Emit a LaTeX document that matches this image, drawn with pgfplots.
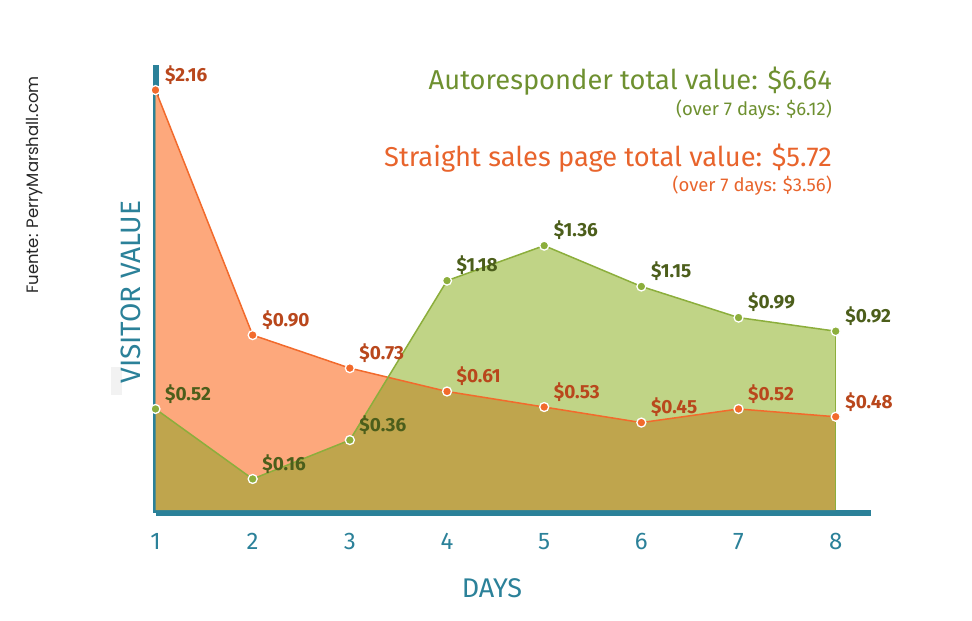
\documentclass[border=0pt]{standalone}
\usepackage{fontspec}
\setmainfont{Fira Sans}
\newfontfamily\poppins{Poppins}
\usepackage{pgfplots}
\pgfplotsset{compat=1.18}
\usepgfplotslibrary{fillbetween}
\definecolor{axteal}{HTML}{2B8199}
\definecolor{orline}{HTML}{F26A2C}
\definecolor{orfill}{HTML}{FDA87C}
\definecolor{grline}{HTML}{8CAE3C}
\definecolor{grfill}{HTML}{C0D486}
\definecolor{olfill}{HTML}{BFA54D}
\definecolor{orlbl}{HTML}{B9471C}
\definecolor{grlbl}{HTML}{4C5E1B}
\definecolor{grhead}{HTML}{6E9030}
\definecolor{orhead}{HTML}{E8642C}
\pgfplotsset{vlabels/.style={
  point meta=y,
  nodes near coords={\$\pgfmathprintnumber[fixed,fixed zerofill,precision=2,assume math mode=true]{\pgfplotspointmeta}},
  every node near coord/.append style={anchor=south west, inner sep=1pt, xshift=8pt, yshift=4pt, font=\bfseries\fontsize{19}{21}\selectfont, text=#1}}}
\begin{document}
\begin{tikzpicture}
\fill[black!5] (111pt,226pt) rectangle (122pt,254pt);
\begin{axis}[
  at={(155.5pt,108pt)}, anchor=south west,
  scale only axis, width=715pt, height=448pt,
  xmin=1, xmax=8.358, ymin=-0.015, ymax=2.289,
  axis x line=bottom, axis y line=left,
  axis line style={line width=6pt, draw=axteal, -},
  ytick=\empty,
  xtick={1,2,3,4,5,6,7,8},
  xticklabels={1,2,3,4,5,6,7,8},
  major tick length=0pt,
  xticklabel style={text=axteal, font=\fontsize{24}{28}\selectfont, yshift=-17pt},
  xlabel={DAYS},
  xlabel style={text=axteal, font=\fontsize{27}{32}\selectfont, at={(axis description cs:0.4706,-0.167)}, anchor=center},
  ylabel={VISITOR VALUE},
  ylabel style={text=axteal, font=\fontsize{28}{33}\selectfont, at={(axis description cs:-0.035,0.493)}, anchor=center},
  clip=false,
]
\addplot[draw=none, name path=B, forget plot] coordinates {(1,0) (8,0)};
\addplot[draw=none, name path=O, forget plot] coordinates {(1,2.16) (2,0.90) (3,0.73) (4,0.61) (5,0.53) (6,0.45) (7,0.52) (8,0.48)};
\addplot[draw=none, name path=G, forget plot] coordinates {(1,0.52) (2,0.16) (3,0.36) (4,1.18) (5,1.36) (6,1.15) (7,0.99) (8,0.92)};
\addplot[olfill, draw=none] fill between[of=O and B];
\addplot[draw=none] fill between[of=G and O, split,
  every segment no 0/.style={fill=orfill},
  every segment no 1/.style={fill=grfill}];
\addplot[grline, line width=1.5pt] coordinates {(8,0) (8,0.92)};
\addplot[orline, line width=1.5pt, mark=*, mark size=4.5pt,
  mark options={fill=orline, draw=white, line width=1.3pt}, vlabels=orlbl]
  coordinates {(1,2.16) (2,0.90) (3,0.73) (4,0.61) (5,0.53) (6,0.45) (7,0.52) (8,0.48)};
\addplot[grline, line width=1.5pt, mark=*, mark size=4.5pt,
  mark options={fill=grline, draw=white, line width=1.3pt}, vlabels=grlbl]
  coordinates {(1,0.52) (2,0.16) (3,0.36) (4,1.18) (5,1.36) (6,1.15) (7,0.99) (8,0.92)};
\end{axis}
\node[anchor=base east, text=grhead, font=\fontsize{27.3}{31}\selectfont, inner sep=0pt] at (832pt,531pt) {Autoresponder total value: \$6.64};
\node[anchor=base east, text=grhead, font=\fontsize{18.5}{22}\selectfont, inner sep=0pt] at (832pt,505pt) {(over 7 days: \$6.12)};
\node[anchor=base east, text=orhead, font=\fontsize{27.3}{31}\selectfont, inner sep=0pt] at (832pt,454pt) {Straight sales page total value: \$5.72};
\node[anchor=base east, text=orhead, font=\fontsize{18.5}{22}\selectfont, inner sep=0pt] at (832pt,429pt) {(over 7 days: \$3.56)};
\node[rotate=90, text=black!85, font=\poppins\fontsize{16.5}{19}\selectfont] at (35pt,436pt) {Fuente: PerryMarshall.com};
\path (0pt,0pt) rectangle (972pt,621pt);
\end{tikzpicture}
\end{document}
